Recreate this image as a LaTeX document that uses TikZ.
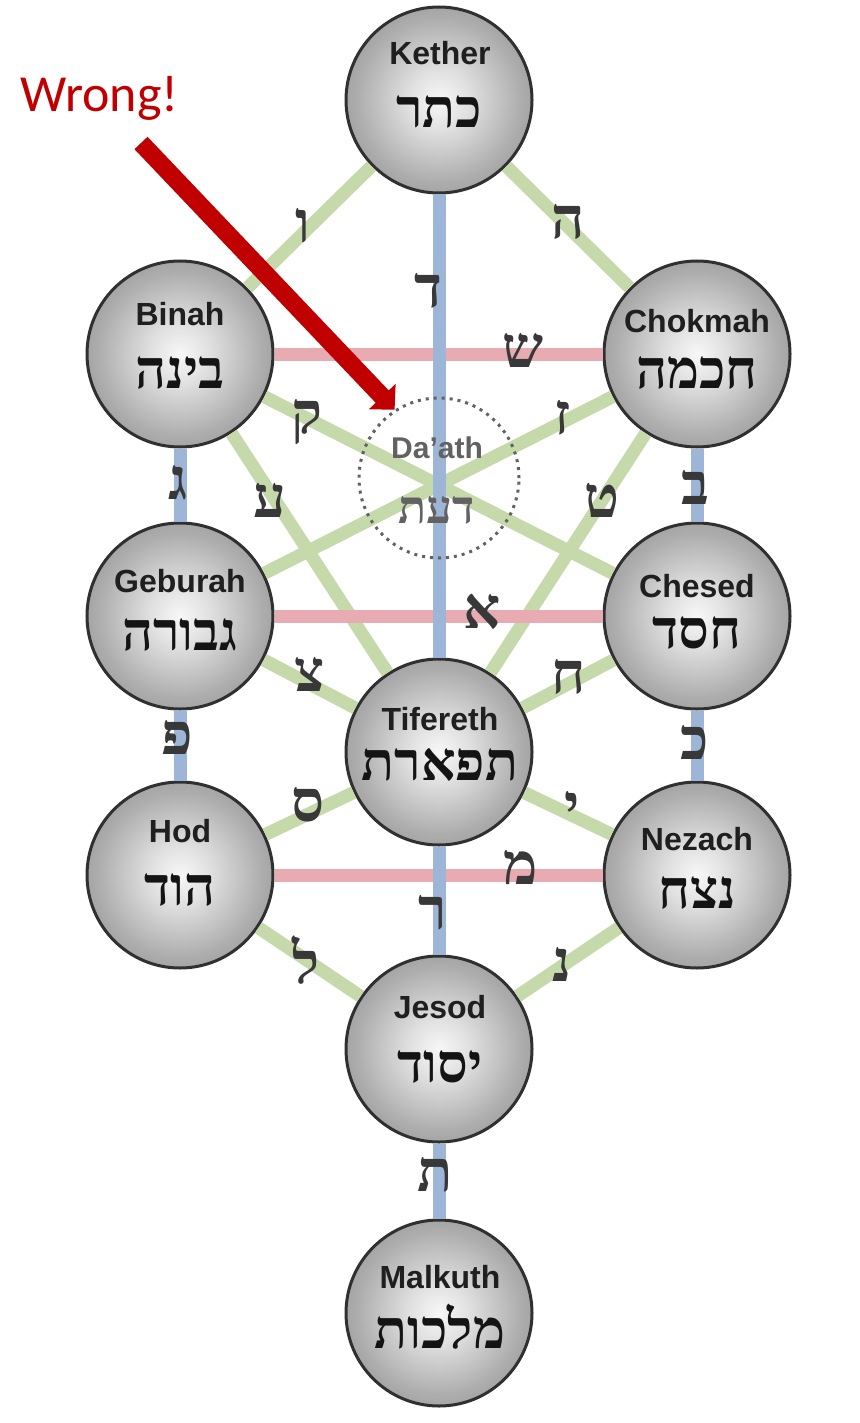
\documentclass[tikz,border=0pt]{standalone}
\usepackage{fontspec}
\setmainfont{Liberation Sans}
\newfontfamily\ivritfont[Script=Hebrew]{Liberation Serif}
\newfontfamily\upozfont{Carlito}
\TeXXeTstate=1
\usetikzlibrary{arrows.meta}
\newcommand{\ivrit}[1]{{\ivritfont\bfseries\beginR#1\endR}}
\definecolor{Plava}{HTML}{9DB5D6}
\definecolor{Zelena}{HTML}{C6D9AA}
\definecolor{Roza}{HTML}{E7ABB1}
\definecolor{Crvena}{HTML}{C00000}
\definecolor{Ivica}{HTML}{303030}
\definecolor{Slova}{HTML}{383838}
\definecolor{Siva}{HTML}{626262}
\pgfdeclareradialshading{sferasenka}{\pgfpoint{0bp}{0bp}}{%
  color(0bp)=(white!97!black); color(8bp)=(white!88!black);
  color(22bp)=(white!68!black); color(38bp)=(white!50!black);
  color(50bp)=(white!36!black); color(100bp)=(white!36!black)}
\tikzset{
  sfera/.style   = {circle, draw=Ivica, line width=1.5pt, minimum size=93pt,
                    inner sep=0pt, shading=sferasenka},
  ime/.style     = {anchor=base, inner sep=0pt, text=black!88,
                    font=\bfseries\fontsize{16}{18}\selectfont},
  hebime/.style  = {anchor=base, inner sep=0pt, text=black!92,
                    font=\fontsize{27}{30}\selectfont},
  slovo/.style   = {inner sep=0pt, text=Slova, font=\fontsize{29}{32}\selectfont},
  daat/.style    = {circle, draw=Siva, line width=1.5pt, minimum size=80pt,
                    inner sep=0pt, dash pattern=on 1.5pt off 2.5pt},
  daatime/.style = {anchor=base, inner sep=0pt, text=Siva,
                    font=\bfseries\fontsize{15}{17}\selectfont},
  daatheb/.style = {anchor=base, inner sep=0pt, text=Siva,
                    font=\fontsize{23}{26}\selectfont},
  kosa/.style    = {draw=Zelena, line width=6.5pt},
  precka/.style  = {draw=Roza, line width=6.5pt},
  stub/.style    = {draw=Plava, line width=6.5pt},
  strela/.style  = {draw=Crvena, line width=9pt,
                    -{Triangle[length=9pt, width=18pt]}},
}

\begin{document}
\begin{tikzpicture}[x=0.5pt, y=-0.5pt]
  \useasboundingbox (0,0) rectangle (859,1423);

  \node[sfera] (kether)   at (439,100)  {};
  \node[sfera] (binah)    at (180,354)  {};
  \node[sfera] (chokmah)  at (697,354)  {};
  \node[sfera] (geburah)  at (180,616)  {};
  \node[sfera] (chesed)   at (697,616)  {};
  \node[sfera] (tifereth) at (439,752)  {};
  \node[sfera] (hod)      at (180,875)  {};
  \node[sfera] (nezach)   at (697,875)  {};
  \node[sfera] (jesod)    at (439,1049) {};
  \node[sfera] (malkuth)  at (439,1313) {};

  \draw[kosa] (kether)   -- (binah);
  \draw[kosa] (kether)   -- (chokmah);
  \draw[kosa] (binah)    -- (chesed);
  \draw[kosa] (chokmah)  -- (geburah);
  \draw[kosa] (binah)    -- (tifereth);
  \draw[kosa] (chokmah)  -- (tifereth);
  \draw[kosa] (geburah)  -- (tifereth);
  \draw[kosa] (chesed)   -- (tifereth);
  \draw[kosa] (tifereth) -- (hod);
  \draw[kosa] (tifereth) -- (nezach);
  \draw[kosa] (hod)      -- (jesod);
  \draw[kosa] (nezach)   -- (jesod);

  \draw[precka] (binah)   -- (chokmah);
  \draw[precka] (geburah) -- (chesed);
  \draw[precka] (hod)     -- (nezach);

  \draw[stub] (binah)    -- (geburah);
  \draw[stub] (geburah)  -- (hod);
  \draw[stub] (chokmah)  -- (chesed);
  \draw[stub] (chesed)   -- (nezach);
  \draw[stub] (kether)   -- (tifereth);
  \draw[stub] (tifereth) -- (jesod);
  \draw[stub] (jesod)    -- (malkuth);

  \node[daat]    (daat)     at (439,478) {};
  \node[daatime] (daat-ime) at (437,458) {Da’ath};
  \node[daatheb] (daat-heb) at (437,523) {\ivrit{דעת}};

  \node[ime]    (kether-ime)   at (440,65)   {Kether};
  \node[hebime] (kether-heb)   at (439,128)  {\ivrit{כתר}};
  \node[ime]    (binah-ime)    at (180,325)  {Binah};
  \node[hebime] (binah-heb)    at (180,388)  {\ivrit{בינה}};
  \node[ime]    (chokmah-ime)  at (697,332)  {Chokmah};
  \node[hebime] (chokmah-heb)  at (697,388)  {\ivrit{חכמה}};
  \node[ime]    (geburah-ime)  at (180,592)  {Geburah};
  \node[hebime] (geburah-heb)  at (180,650)  {\ivrit{גבורה}};
  \node[ime]    (chesed-ime)   at (697,597)  {Chesed};
  \node[hebime] (chesed-heb)   at (697,648)  {\ivrit{חסד}};
  \node[ime]    (tifereth-ime) at (440,730)  {Tifereth};
  \node[hebime] (tifereth-heb) at (440,780)  {\ivrit{תפארת}};
  \node[ime]    (hod-ime)      at (180,842)  {Hod};
  \node[hebime] (hod-heb)      at (180,905)  {\ivrit{הוד}};
  \node[ime]    (nezach-ime)   at (697,850)  {Nezach};
  \node[hebime] (nezach-heb)   at (697,908)  {\ivrit{נצח}};
  \node[ime]    (jesod-ime)    at (440,1018) {Jesod};
  \node[hebime] (jesod-heb)    at (440,1082) {\ivrit{יסוד}};
  \node[ime]    (malkuth-ime)  at (440,1288) {Malkuth};
  \node[hebime] (malkuth-heb)  at (440,1348) {\ivrit{מלכות}};

  \node[slovo] (vav)    at (303,226)  {\ivrit{ו}};
  \node[slovo] (he)     at (568,222)  {\ivrit{ה}};
  \node[slovo] (dalet)  at (428,291)  {\ivrit{ד}};
  \node[slovo] (shin)   at (523,350)  {\ivrit{ש}};
  \node[slovo] (qof)    at (307,422)  {\ivrit{ק}};
  \node[slovo] (zayin)  at (563,418)  {\ivrit{ז}};
  \node[slovo] (gimel)  at (178,483)  {\ivrit{ג}};
  \node[slovo] (ayin)   at (270,500)  {\ivrit{ע}};
  \node[slovo] (tet)    at (602,500)  {\ivrit{ט}};
  \node[slovo] (bet)    at (695,487)  {\ivrit{ב}};
  \node[slovo] (alef)   at (482,612)  {\ivrit{א}};
  \node[slovo] (tsadi)  at (310,674)  {\ivrit{צ}};
  \node[slovo] (het)    at (569,677)  {\ivrit{ח}};
  \node[slovo] (pe)     at (177,737)  {\ivrit{פ}};
  \node[slovo] (kaf)    at (695,742)  {\ivrit{כ}};
  \node[slovo] (samekh) at (308,805)  {\ivrit{ס}};
  \node[slovo] (yod)    at (572,808)  {\ivrit{י}};
  \node[slovo] (mem)    at (521,868)  {\ivrit{מ}};
  \node[slovo] (resh)   at (433,913)  {\ivrit{ר}};
  \node[slovo] (lamed)  at (306,960)  {\ivrit{ל}};
  \node[slovo] (nun)    at (562,964)  {\ivrit{נ}};
  \node[slovo] (tav)    at (435,1175) {\ivrit{ת}};

  \node[anchor=base west, inner sep=0pt, text=Crvena,
        font=\upozfont\fontsize{26}{30}\selectfont] (upozorenje) at (20,112) {Wrong!};
  \coordinate (strela-rep) at (141,143);
  \draw[strela] (strela-rep) -- (daat.123);
\end{tikzpicture}
\end{document}
